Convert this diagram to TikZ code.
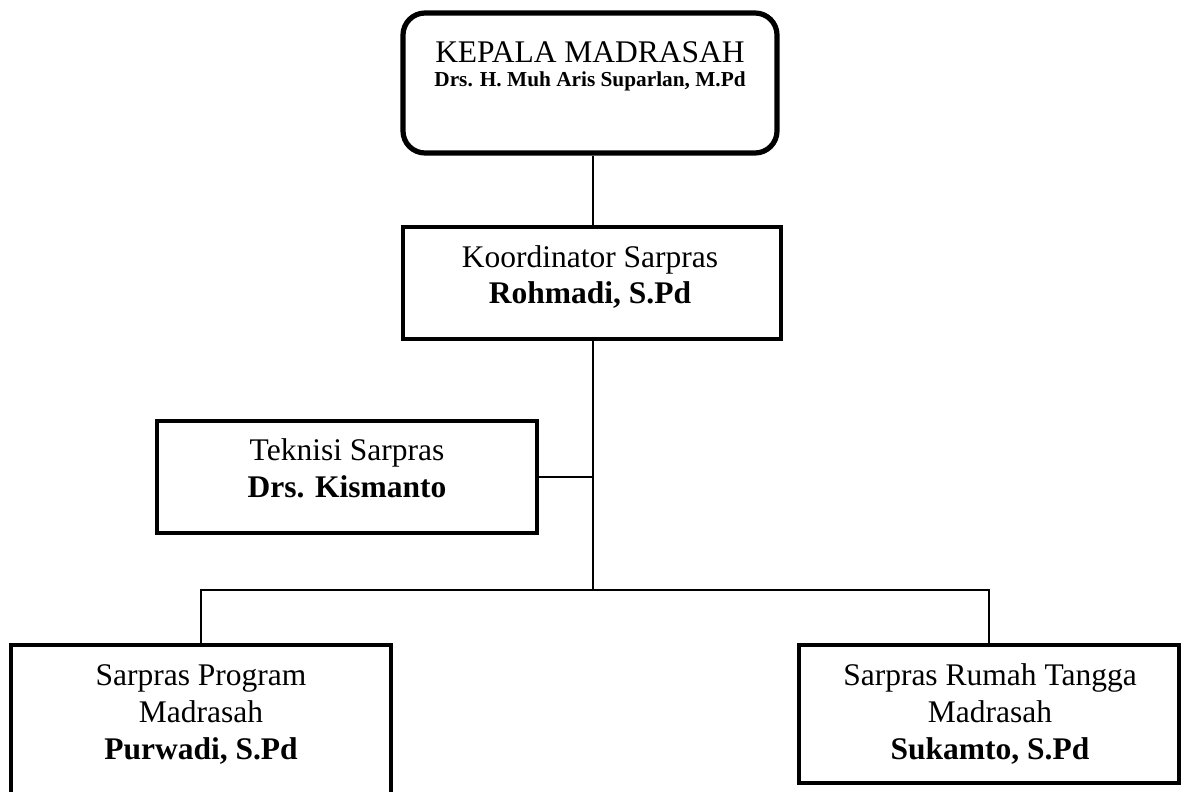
\documentclass[tikz,border=0pt]{standalone}
\usepackage{fontspec}
\setmainfont{Liberation Serif}
\begin{document}
\begin{tikzpicture}[x=0.5pt,y=-0.5pt,
  box/.style={draw=black, line width=2pt, rectangle, inner sep=0pt},
  topbox/.style={draw=black, line width=2.6pt, rectangle, rounded corners=11pt, inner sep=0pt},
  conn/.style={draw=black, line width=0.8pt},
  txt/.style={anchor=base, inner sep=0pt, font=\fontsize{15.75}{19}\selectfont},
  txtb/.style={anchor=base, inner sep=0pt, font=\fontsize{15.75}{19}\selectfont\bfseries},
  txts/.style={anchor=base, inner sep=0pt, font=\fontsize{10.65}{13}\selectfont\bfseries}]
\useasboundingbox (0,0) rectangle (1186,791);
% boxes
\node[topbox, minimum width=187pt, minimum height=70pt] (kep) at (590,83) {};
\node[box, minimum width=189pt, minimum height=56pt] (koor) at (592,283) {};
\node[box, minimum width=190pt, minimum height=56pt] (tek) at (347,477) {};
\node[box, minimum width=190pt, minimum height=127.5pt] (spp) at (201,772.5) {};
\node[box, minimum width=190pt, minimum height=69pt] (srt) at (989,714) {};
% texts
\node[txt] (kep1) at (590,63) {KEPALA MADRASAH};
\node[txts] (kep2) at (590,87) {Drs. H. Muh Aris Suparlan, M.Pd};
\node[txt] (koor1) at (590,267) {Koordinator Sarpras};
\node[txtb] (koor2) at (590,303) {Rohmadi, S.Pd};
\node[txt] (tek1) at (347,460) {Teknisi Sarpras};
\node[txtb] (tek2) at (347,497) {Drs. Kismanto};
\node[txt] (spp1) at (201,685) {Sarpras Program};
\node[txt] (spp2) at (201,722) {Madrasah};
\node[txtb] (spp3) at (201,759) {Purwadi, S.Pd};
\node[txt] (srt1) at (990,685) {Sarpras Rumah Tangga};
\node[txt] (srt2) at (990,722) {Madrasah};
\node[txtb] (srt3) at (990,759) {Sukamto, S.Pd};
% connectors
\coordinate (busc) at (593,590);
\draw[conn] (koor.north -| busc) -- (kep.south -| busc);
\draw[conn] (koor.south -| busc) -- (busc);
\draw[conn] (tek.east) -- (tek.east -| busc);
\draw[conn] (spp.north) |- (busc);
\draw[conn] (srt.north) |- (busc);
\end{tikzpicture}
\end{document}
